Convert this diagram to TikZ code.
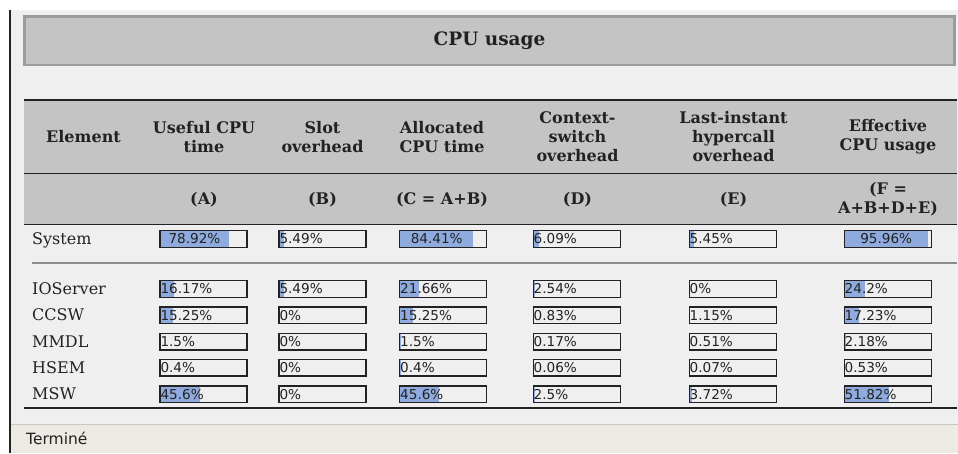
\documentclass[tikz,border=0pt]{standalone}
\usepackage{fontspec}
\setmainfont{DejaVu Serif}
\setsansfont{DejaVu Sans}
\usepackage{tikz}
\definecolor{pagegrey}{HTML}{EFEFEF}
\definecolor{headgrey}{HTML}{C4C4C4}
\definecolor{framegrey}{HTML}{9C9C9C}
\definecolor{rulegrey}{HTML}{8C8C8C}
\definecolor{statusbeige}{HTML}{EDEAE4}
\definecolor{statusline}{HTML}{CBC7C0}
\definecolor{barblue}{HTML}{8FAADC}
\definecolor{inkdark}{HTML}{222222}

\begin{document}
\begin{tikzpicture}[x=1pt, y=-1pt,
  head/.style={font=\fontsize{16}{19}\selectfont\bfseries, align=center, text=inkdark, inner sep=0pt},
  rowname/.style={anchor=base west, font=\fontsize{16}{19}\selectfont, text=inkdark, inner sep=0pt},
  bar/.style={draw=inkdark, line width=1.4pt, minimum width=87pt, minimum height=16.5pt,
              text width=86pt, align=left, inner xsep=0.5pt, inner ysep=0pt,
              font=\sffamily\fontsize{13.6}{15}\selectfont, text=inkdark,
              path picture={\fill[barblue] (path picture bounding box.south west)
                rectangle ([xshift=#1*0.87pt]path picture bounding box.north west);}},
  tablerule/.style={draw=inkdark, line width=1.5pt}
]
  \useasboundingbox (0,0) rectangle (958,453);
  % window background
  \fill[white] (0,0) rectangle (958,453);
  \fill[pagegrey] (11,10) rectangle (958,424);
  \fill[statusbeige] (11,424) rectangle (958,453);
  \draw[statusline, line width=1pt] (11,424.5) -- (958,424.5);
  \draw[inkdark, line width=2pt] (10,10) -- (10,453);

  \node[draw=framegrey, line width=2.5pt, fill=headgrey, minimum width=930pt, minimum height=48.5pt,
        font=\fontsize{18.5}{22}\selectfont\bfseries, text=inkdark] (title) at (489.5,40.8) {CPU usage};

  % table header
  \fill[headgrey] (24,100) rectangle (957,224.5);
  \draw[tablerule] (24,100) -- (957,100);
  \draw[tablerule] (24,173.5) -- (957,173.5);
  \draw[tablerule] (24,224.5) -- (957,224.5);

  \node[head] (hElem) at (83.5,137) {Element};
  \node[head] (hA) at (204,137) {Useful CPU\\time};
  \node[head] (hB) at (322.5,137) {Slot\\overhead};
  \node[head] (hC) at (442,137) {Allocated\\CPU time};
  \node[head] (hD) at (577.5,137) {Context-\\switch\\overhead};
  \node[head] (hE) at (733.5,137) {Last-instant\\hypercall\\overhead};
  \node[head] (hF) at (888,137) {Effective\\CPU usage};

  \node[head] (fA) at (204,199.5) {(A)};
  \node[head] (fB) at (322.5,199.5) {(B)};
  \node[head] (fC) at (442,199.5) {(C = A+B)};
  \node[head] (fD) at (577.5,199.5) {(D)};
  \node[head] (fE) at (733.5,199.5) {(E)};
  \node[head] (fF) at (888,199.5) {(F =\\A+B+D+E)};

  % system row
  \node[rowname] (nSys) at (32,244.5) {System};
  \node[bar=78.92] (sysA) at (203.5,239) {\makebox[68pt]{78.92\%}};
  \node[bar=5.49] (sysB) at (322.5,239) {5.49\%};
  \node[bar=84.41] (sysC) at (443.2,239) {\makebox[73pt]{84.41\%}};
  \node[bar=6.09] (sysD) at (576.7,239) {6.09\%};
  \node[bar=5.45] (sysE) at (732.7,239) {5.45\%};
  \node[bar=95.96] (sysF) at (887.7,239) {\makebox[83pt]{95.96\%}};

  \draw[rulegrey, line width=2pt] (32,263) -- (957,263);

  % partitions
  \node[rowname] (nIo) at (32,294.5) {IOServer};
  \node[bar=16.17] (ioA) at (203.5,289) {16.17\%};
  \node[bar=5.49] (ioB) at (322.5,289) {5.49\%};
  \node[bar=21.66] (ioC) at (443.2,289) {21.66\%};
  \node[bar=2.54] (ioD) at (576.7,289) {2.54\%};
  \node[bar=0] (ioE) at (732.7,289) {0\%};
  \node[bar=24.2] (ioF) at (887.7,289) {24.2\%};

  \node[rowname] (nCc) at (32,320.8) {CCSW};
  \node[bar=15.25] (ccA) at (203.5,315.3) {15.25\%};
  \node[bar=0] (ccB) at (322.5,315.3) {0\%};
  \node[bar=15.25] (ccC) at (443.2,315.3) {15.25\%};
  \node[bar=0.83] (ccD) at (576.7,315.3) {0.83\%};
  \node[bar=1.15] (ccE) at (732.7,315.3) {1.15\%};
  \node[bar=17.23] (ccF) at (887.7,315.3) {17.23\%};

  \node[rowname] (nMm) at (32,347.1) {MMDL};
  \node[bar=1.5] (mmA) at (203.5,341.6) {1.5\%};
  \node[bar=0] (mmB) at (322.5,341.6) {0\%};
  \node[bar=1.5] (mmC) at (443.2,341.6) {1.5\%};
  \node[bar=0.17] (mmD) at (576.7,341.6) {0.17\%};
  \node[bar=0.51] (mmE) at (732.7,341.6) {0.51\%};
  \node[bar=2.18] (mmF) at (887.7,341.6) {2.18\%};

  \node[rowname] (nHs) at (32,373.4) {HSEM};
  \node[bar=0.4] (hsA) at (203.5,367.9) {0.4\%};
  \node[bar=0] (hsB) at (322.5,367.9) {0\%};
  \node[bar=0.4] (hsC) at (443.2,367.9) {0.4\%};
  \node[bar=0.06] (hsD) at (576.7,367.9) {0.06\%};
  \node[bar=0.07] (hsE) at (732.7,367.9) {0.07\%};
  \node[bar=0.53] (hsF) at (887.7,367.9) {0.53\%};

  \node[rowname] (nMs) at (32,399.7) {MSW};
  \node[bar=45.6] (msA) at (203.5,394.2) {45.6\%};
  \node[bar=0] (msB) at (322.5,394.2) {0\%};
  \node[bar=45.6] (msC) at (443.2,394.2) {45.6\%};
  \node[bar=2.5] (msD) at (576.7,394.2) {2.5\%};
  \node[bar=3.72] (msE) at (732.7,394.2) {3.72\%};
  \node[bar=51.82] (msF) at (887.7,394.2) {51.82\%};

  \draw[tablerule] (24,408) -- (957,408);

  \node[anchor=base west, font=\sffamily\fontsize{15.5}{18}\selectfont, text=inkdark, inner sep=0pt] (status) at (26,444) {Terminé};
\end{tikzpicture}
\end{document}
